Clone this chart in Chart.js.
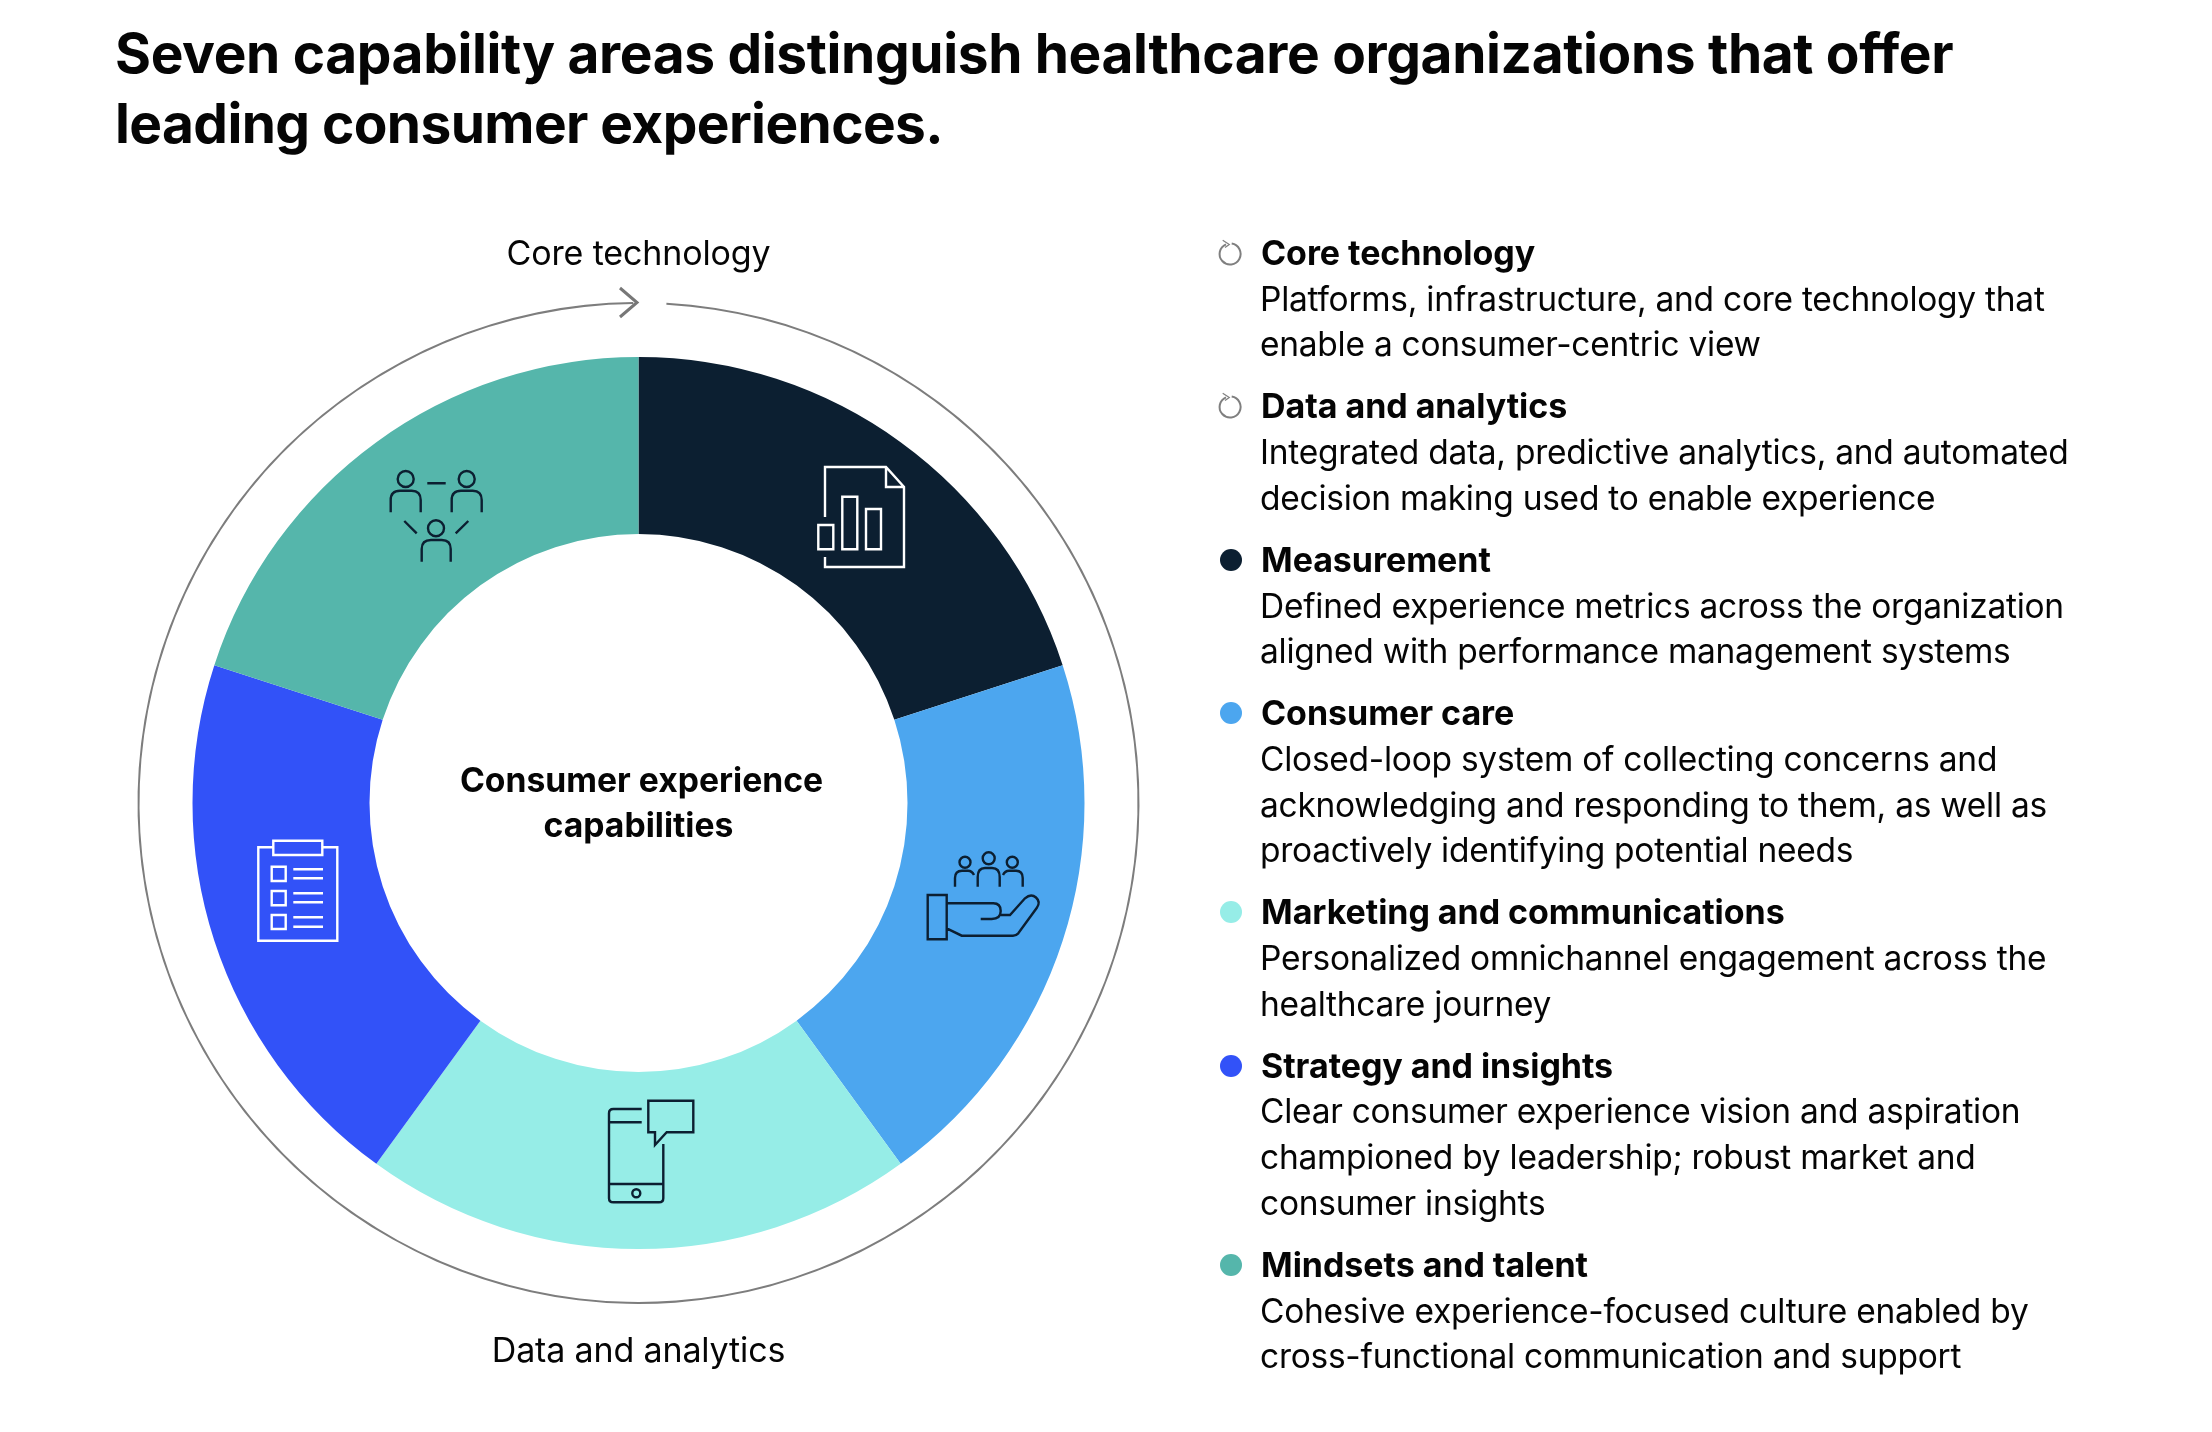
<!DOCTYPE html>
<html>
<head>
<meta charset="utf-8">
<title>Consumer experience capabilities</title>
<script src="https://cdn.jsdelivr.net/npm/chart.js@4/dist/chart.umd.min.js"></script>
<style>
  html, body { margin: 0; padding: 0; background: #fff; }
  body { width: 2212px; height: 1432px; position: relative; overflow: hidden; font-family: Inter, sans-serif; color: #050505; }
  canvas { position: absolute; left: 0; top: 0; }
  h1 { position: absolute; left: 115px; top: 17.5px; margin: 0; font-size: 55px; line-height: 70px; font-weight: 700; white-space: nowrap; }
  .ring-label { position: absolute; left: 338.5px; width: 600px; text-align: center; font-size: 34px; line-height: 46px; letter-spacing: -0.15px; }
  .center-label { position: absolute; left: 338.5px; width: 600px; top: 757px; text-align: center; font-size: 33.7px; line-height: 45px; font-weight: 700; }
  #legend { position: absolute; left: 1260px; top: 230px; font-size: 33.5px; line-height: 45.7px; letter-spacing: -0.26px; white-space: nowrap; }
  .item { position: relative; margin-bottom: 16.3px; }
  .item b { font-weight: 700; font-size: 34px; letter-spacing: -0.05px; display: block; margin-left: 1px; }
  .item span { display: block; position: relative; top: 1px; }
  .item i { position: absolute; left: -40px; top: 12px; width: 22px; height: 22px; border-radius: 50%; }
  .item svg { position: absolute; left: -44px; top: 10px; overflow: visible; }
</style>
</head>
<body>
<h1><span style="letter-spacing:-0.36px">Seven capability areas distinguish healthcare organizations that offer</span><br><span style="letter-spacing:-0.6px">leading consumer experiences.</span></h1>
<canvas id="capabilityChart" width="2212" height="1432"></canvas>
<div class="ring-label" style="top:230px">Core technology</div>
<div class="ring-label" style="top:1327px">Data and analytics</div>
<div class="center-label"><span style="position:relative;left:3px">Consumer experience</span><br>capabilities</div>
<div id="legend"></div>

<script>
document.addEventListener('DOMContentLoaded', function() {
    const capabilities = [
        { name: 'Core technology', color: null, lines: ['Platforms, infrastructure, and core technology that', 'enable a consumer-centric view'] },
        { name: 'Data and analytics', color: null, lines: ['Integrated data, predictive analytics, and automated', 'decision making used to enable experience'] },
        { name: 'Measurement', color: '#0c1f31', lines: ['Defined experience metrics across the organization', 'aligned with performance management systems'] },
        { name: 'Consumer care', color: '#4ca6ef', lines: ['Closed-loop system of collecting concerns and', 'acknowledging and responding to them, as well as', 'proactively identifying potential needs'] },
        { name: 'Marketing and communications', color: '#96ede7', lines: ['Personalized omnichannel engagement across the', 'healthcare journey'] },
        { name: 'Strategy and insights', color: '#3252f8', lines: ['Clear consumer experience vision and aspiration', 'championed by leadership; robust market and', 'consumer insights'] },
        { name: 'Mindsets and talent', color: '#55b6ab', lines: ['Cohesive experience-focused culture enabled by', 'cross-functional communication and support'] }
    ];

    // Only the five coloured capabilities get a slice, all equal
    const slices = capabilities.filter(c => c.color);

    // Legend
    const legend = document.getElementById('legend');
    capabilities.forEach(c => {
        const item = document.createElement('div');
        item.className = 'item';
        const marker = c.color
            ? `<i style="background:${c.color}"></i>`
            : '<svg width="28" height="28" viewBox="0 0 28 28" fill="none" stroke="#7f7f7f" stroke-width="2"><path d="M15.7 3.6A10.5 10.5 0 1 1 10 4.3"/><path d="M6.7 0.2L13.3 4.5L9 7.5" stroke-width="1.2"/></svg>';
        item.innerHTML = marker + `<b>${c.name}</b>` + c.lines.map(l => `<span>${l}</span>`).join('');
        legend.appendChild(item);
    });

    // Line icons, drawn over the slices
    const icons = [
        { color: '#ffffff', path: 'M825 517V467H886L904 487V567H825V557M886 467V487H904M818.3 525H833.3V549.3H818.3ZM842.3 496.7H857.3V549.3H842.3ZM866 509H881V549.3H866Z' },
        { color: '#0c1f31', path: 'M970.5 862.3a5.5 5.5 0 1 1-11 0a5.5 5.5 0 1 1 11 0M994.7 858.3a6 6 0 1 1-12 0a6 6 0 1 1 12 0M1017.8 862.3a5.5 5.5 0 1 1-11 0a5.5 5.5 0 1 1 11 0M955 886.7V878Q955 870.7 962 870.7H968Q972 870.7 974 875M977.7 886.7V877Q977.7 868 985 868H992Q999.7 868 999.7 877V886.7M1022.7 886.7V878Q1022.7 870.7 1016 870.7H1009Q1005 870.7 1003 875M927.7 895H946.7V939.3H927.7ZM946.7 903.3H993.3Q1000.7 903.3 1000.7 911Q1000.7 919 991.7 919H980.7M1000.7 915H1010L1025 898.3Q1031 893 1036 897.5Q1041 902 1036.7 908L1018.3 933.3Q1016 935.7 1013 935.7H961.7L946.7 928.3' },
        { color: '#0c1f31', path: 'M641.7 1109H613.3Q609 1109 609 1113.3V1198.3Q609 1202.3 613.3 1202.3H659Q663.3 1202.3 663.3 1198.3V1144M609 1122.3H641.7M609 1184H663.3M640.3 1193.3a4 4 0 1 1-8 0a4 4 0 1 1 8 0M648.3 1100.7H693.3V1132.3H666.7L655 1145V1132.3H648.3Z' },
        { color: '#ffffff', path: 'M273.3 847.3H258.3V940.7H337.3V847.3H322.3M273.3 840.7H322.3V855H273.3ZM271.7 866.7H285.7V881H271.7ZM271.7 891H285.7V905.3H271.7ZM271.7 915H285.7V929H271.7ZM293.3 869.3H323M293.3 878.3H323M293.3 893.3H323M293.3 902.3H323M293.3 917.3H323M293.3 926.7H323' },
        { color: '#0c1f31', path: 'M413.7 479a8 8 0 1 1-16 0a8 8 0 1 1 16 0M474.7 479a8 8 0 1 1-16 0a8 8 0 1 1 16 0M444 528.3a8 8 0 1 1-16 0a8 8 0 1 1 16 0M390.7 512.3V500Q390.7 490.7 400 490.7H411.7Q420.7 490.7 420.7 500V512.3M451.7 512.3V500Q451.7 490.7 461 490.7H472.7Q481.7 490.7 481.7 500V512.3M421.7 561.7V549Q421.7 540 431 540H441.7Q450.7 540 450.7 549V561.7M427.3 483.3H445.7M404.3 521L416.7 533.3M468.3 521L455.7 533.3' }
    ];

    const iconPlugin = {
        id: 'icons',
        afterDraw(chart) {
            const ctx = chart.ctx;
            ctx.save();
            ctx.lineWidth = 2.4;
            ctx.lineJoin = 'miter';
            icons.forEach(icon => {
                ctx.strokeStyle = icon.color;
                ctx.stroke(new Path2D(icon.path));
            });
            // arrow head where the outer ring closes
            ctx.strokeStyle = '#777777';
            ctx.lineWidth = 3;
            ctx.stroke(new Path2D('M620 288L637 302.5L620 317'));
            ctx.restore();
        }
    };

    new Chart(document.getElementById('capabilityChart'), {
        type: 'doughnut',
        data: {
            labels: slices.map(c => c.name),
            datasets: [
                // thin outer ring: gap, line, gap (degrees)
                { data: [3.2, 356.2, 0.6], backgroundColor: ['transparent', '#7d7d7d', 'transparent'], borderWidth: 0, weight: 2 },
                // white space between ring and slices
                { data: [1], backgroundColor: ['transparent'], borderWidth: 0, weight: 53 },
                { data: slices.map(() => 1), backgroundColor: slices.map(c => c.color), borderWidth: 0, weight: 177 }
            ]
        },
        options: {
            responsive: false,
            animation: false,
            cutout: 269,
            layout: { padding: { left: 137.5, right: 1072.5, top: 302, bottom: 128 } },
            plugins: {
                legend: { display: false },
                tooltip: { enabled: false }
            }
        },
        plugins: [iconPlugin]
    });
});
</script>
</body>
</html>
